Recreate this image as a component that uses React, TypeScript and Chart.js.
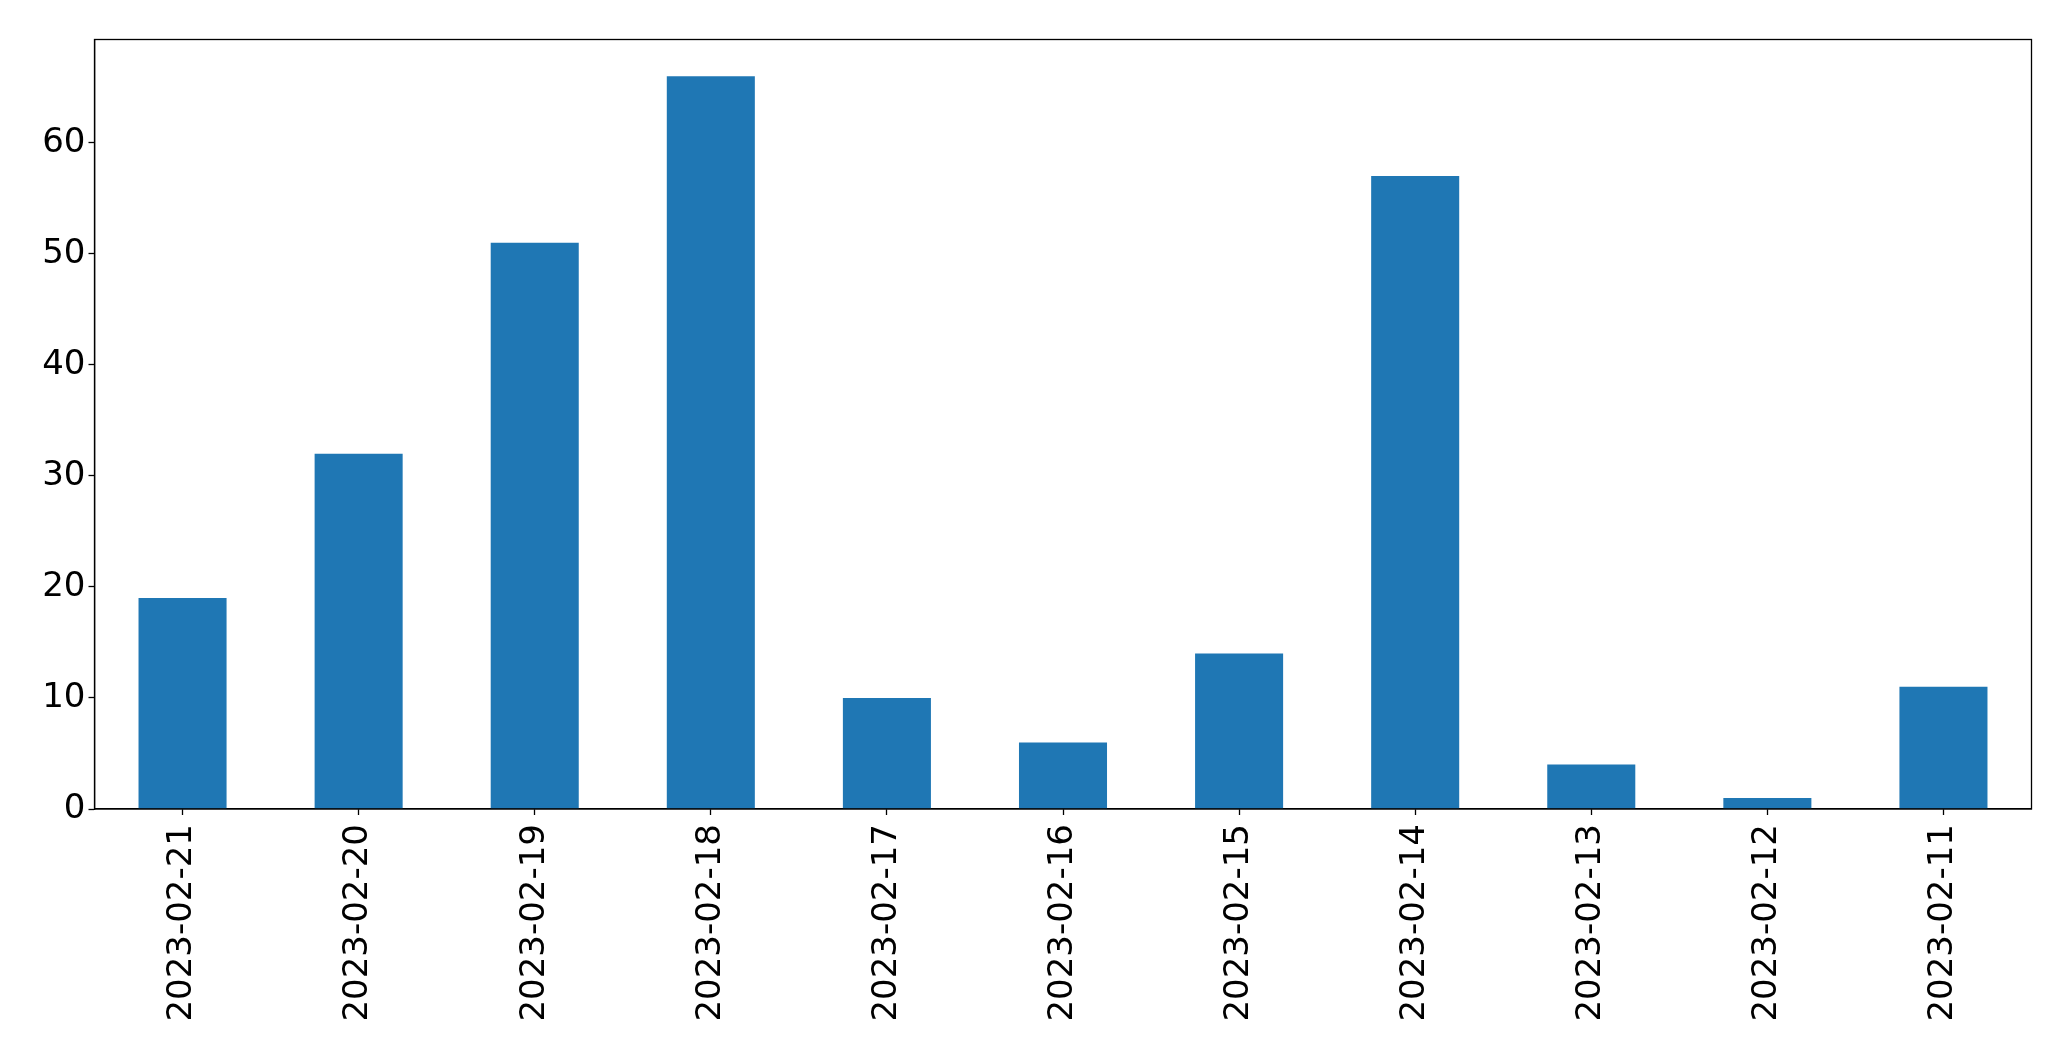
import React, { useEffect, useRef } from "react";
import { Chart, registerables } from "chart.js";

Chart.register(...registerables);

const categories = [
  "2023-02-21",
  "2023-02-20",
  "2023-02-19",
  "2023-02-18",
  "2023-02-17",
  "2023-02-16",
  "2023-02-15",
  "2023-02-14",
  "2023-02-13",
  "2023-02-12",
  "2023-02-11",
];
const values = [19, 32, 51, 66, 10, 6, 14, 57, 4, 1, 11];
const yTicks = [0, 10, 20, 30, 40, 50, 60];
const yMax = 69.3;

const W = 2071;
const H = 1061;
const FONT = "'DejaVu Sans', sans-serif";

const framePlugin = {
  id: "frame",
  afterDraw(chart: any) {
    const { ctx, chartArea } = chart;
    ctx.save();
    ctx.strokeStyle = "#000";
    ctx.lineWidth = 1.3;
    ctx.strokeRect(
      chartArea.left,
      chartArea.top,
      chartArea.right - chartArea.left,
      chartArea.bottom - chartArea.top
    );
    ctx.restore();
  },
};

export default function App() {
  const ref = useRef<HTMLCanvasElement | null>(null);

  useEffect(() => {
    if (!ref.current) return;
    const chart = new Chart(ref.current, {
      type: "bar",
      data: {
        labels: categories,
        datasets: [
          {
            data: values,
            backgroundColor: "#1f77b4",
            borderWidth: 0,
            barPercentage: 0.5,
            categoryPercentage: 1,
          },
        ],
      },
      options: {
        animation: false,
        responsive: false,
        maintainAspectRatio: false,
        devicePixelRatio: 1,
        layout: { padding: { left: 0, top: 39.5, right: 39.5, bottom: 0 } },
        plugins: {
          legend: { display: false },
          tooltip: { enabled: false },
          title: { display: false },
        },
        scales: {
          x: {
            type: "category",
            offset: true,
            grid: {
              display: true,
              offset: false,
              drawOnChartArea: false,
              drawTicks: true,
              tickLength: 6,
              tickColor: "#000",
              tickWidth: 1.3,
            },
            border: { display: true, color: "#000", width: 1.3 },
            ticks: {
              color: "#000",
              font: { family: FONT, size: 34 },
              minRotation: 90,
              maxRotation: 90,
              autoSkip: false,
              padding: 9,
            },
            afterFit: (scale: any) => {
              scale.height = 252;
            },
          },
          y: {
            type: "linear",
            min: 0,
            max: yMax,
            grid: {
              display: true,
              drawOnChartArea: false,
              drawTicks: true,
              tickLength: 6,
              tickColor: "#000",
              tickWidth: 1.3,
            },
            border: { display: true, color: "#000", width: 1.3 },
            ticks: {
              color: "#000",
              font: { family: FONT, size: 34 },
              stepSize: 10,
              includeBounds: false,
              padding: 3,
            },
            afterBuildTicks: (scale: any) => {
              scale.ticks = yTicks.map((v) => ({ value: v }));
            },
            afterFit: (scale: any) => {
              scale.width = 94.5;
            },
          },
        },
      },
      plugins: [framePlugin],
    });
    return () => chart.destroy();
  }, []);

  return (
    <div style={{ position: "fixed", left: 0, top: 0, width: W, height: H, background: "#fff" }}>
      <canvas ref={ref} width={W} height={H} style={{ width: W, height: H, display: "block" }} />
    </div>
  );
}
